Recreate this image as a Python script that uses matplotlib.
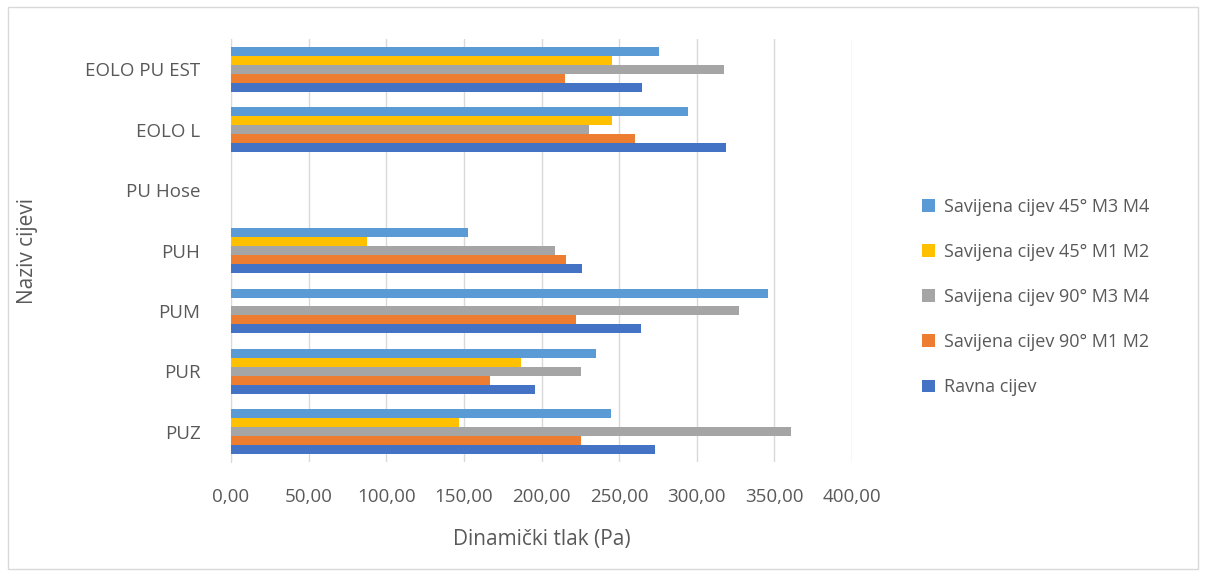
import matplotlib

matplotlib.use("Agg")

import matplotlib.pyplot as plt
import numpy as np
from matplotlib.patches import Rectangle

categories = ["PUZ", "PUR", "PUM", "PUH", "PU Hose", "EOLO L", "EOLO PU EST"]

series_names = [
    "Ravna cijev",
    "Savijena cijev 90° M1 M2",
    "Savijena cijev 90° M3 M4",
    "Savijena cijev 45° M1 M2",
    "Savijena cijev 45° M3 M4",
]
ravna = [272.8, 196.1, 264.3, 226.2, 0, 318.9, 265.0]
sav90_m1m2 = [225.7, 166.6, 222.1, 215.5, 0, 260.2, 215.0]
sav90_m3m4 = [361.0, 225.7, 327.1, 208.6, 0, 230.9, 317.3]
sav45_m1m2 = [146.7, 186.5, 0, 87.6, 0, 245.3, 245.3]
sav45_m3m4 = [245.0, 235.4, 346.0, 152.6, 0, 294.4, 276.0]

x_ticks = [0, 50, 100, 150, 200, 250, 300, 350, 400]
colors = ["#4472C4", "#ED7D31", "#A5A5A5", "#FFC000", "#5B9BD5"]
text_color = "#595959"

plt.rcParams["font.family"] = ["Open Sans", "DejaVu Sans"]

fig = plt.figure(figsize=(12.06, 5.76), dpi=100)
fig.patches.append(
    Rectangle((0.007, 0.012), 0.986, 0.976, transform=fig.transFigure,
              fill=False, edgecolor="#D9D9D9", linewidth=1)
)
ax = fig.add_axes([231 / 1206, 1 - 462 / 576, (852 - 231) / 1206, (462 - 39) / 576])

all_series = [ravna, sav90_m1m2, sav90_m3m4, sav45_m1m2, sav45_m3m4]
y = np.arange(len(categories))
bar_h = 0.148
for i, (name, vals, col) in enumerate(zip(series_names, all_series, colors)):
    offset = (i - 2) * bar_h
    ax.barh(y + offset, vals, height=bar_h, color=col, label=name, zorder=3)

ax.set_xlim(0, 400)
ax.set_ylim(-0.5, len(categories) - 0.5)
ax.set_xticks(x_ticks)
ax.set_xticklabels([f"{v:.2f}".replace(".", ",") for v in x_ticks])
ax.set_yticks(y)
ax.set_yticklabels(categories)
ax.tick_params(axis="both", length=0, labelsize=13.5, colors=text_color)
ax.tick_params(axis="x", pad=19)
ax.tick_params(axis="y", pad=22)
ax.grid(axis="x", color="#D9D9D9", linewidth=1, zorder=0)
for side in ["top", "right", "bottom"]:
    ax.spines[side].set_visible(False)
ax.spines["left"].set_color("#D9D9D9")

ax.set_xlabel("Dinamički tlak (Pa)", fontsize=15, color=text_color, labelpad=16)
ax.set_ylabel("Naziv cijevi", fontsize=15, color=text_color, labelpad=34)

handles, labels = ax.get_legend_handles_labels()
fig.legend(
    handles[::-1], labels[::-1],
    loc="center left", bbox_to_anchor=(906 / 1206, 1 - 297 / 576),
    frameon=False, fontsize=13, labelcolor=text_color,
    handlelength=0.7, handleheight=0.7, handletextpad=0.5, labelspacing=1.5,
)

fig.savefig("out.png", dpi=100)
